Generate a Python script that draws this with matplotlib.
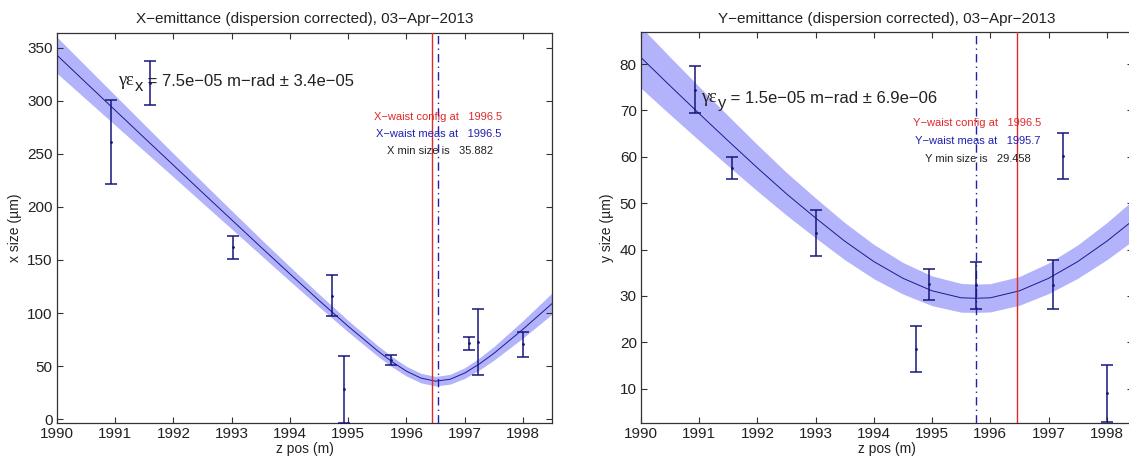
import matplotlib
matplotlib.use("Agg")
import matplotlib.pyplot as plt

plt.rcParams['font.family'] = ['Liberation Sans', 'DejaVu Sans']

# ---------------- data ----------------
years_ticks = [1990, 1991, 1992, 1993, 1994, 1995, 1996, 1997, 1998]

# X plane measurements
x_z = [1990.93, 1991.60, 1993.02, 1994.72, 1994.93, 1995.74, 1997.07, 1997.23, 1998.01]
x_size = [261.0, 316.7, 161.8, 116.5, 28.2, 55.7, 71.5, 72.6, 70.6]
x_err = [39.7, 21.0, 11.2, 19.2, 31.4, 4.9, 6.2, 31.0, 11.6]

# X fitted envelope
x_fit_z = [1990, 1990.5, 1991, 1991.5, 1992, 1992.5, 1993, 1993.5, 1994, 1994.5,
           1995, 1995.5, 1995.75, 1996, 1996.25, 1996.5, 1996.75, 1997, 1997.25,
           1997.5, 1998, 1998.5]
x_fit = [342.8, 316.8, 290.9, 265.0, 239.2, 213.4, 187.8, 162.2, 136.9, 111.9,
         87.6, 64.7, 54.3, 45.3, 38.8, 35.9, 37.7, 43.5, 52.0, 62.0, 84.7, 108.9]
x_band = [17.0, 15.5, 14.0, 12.5, 11.0, 9.8, 8.6, 7.6, 6.8, 6.0,
          5.4, 5.0, 4.8, 4.6, 4.5, 4.5, 4.6, 5.0, 5.6, 6.4, 8.2, 10.0]

# Y plane measurements
y_z = [1990.92, 1991.57, 1993.01, 1994.73, 1994.94, 1995.76, 1997.07, 1997.24, 1998.01]
y_size = [74.5, 57.6, 43.6, 18.65, 32.5, 32.3, 32.4, 60.2, 9.0]
y_err = [5.05, 2.4, 5.0, 4.95, 3.35, 5.1, 5.25, 5.0, 6.2]

# Y fitted envelope
y_fit_z = [1990, 1990.5, 1991, 1991.5, 1992, 1992.5, 1993, 1993.5, 1994, 1994.5,
           1995, 1995.5, 1995.75, 1996, 1996.5, 1997, 1997.5, 1998, 1998.5]
y_fit = [81.4, 75.3, 69.3, 63.4, 57.6, 52.0, 46.8, 41.8, 37.4, 33.8,
         31.1, 29.6, 29.5, 29.6, 31.1, 33.8, 37.4, 41.8, 46.8]
y_band = [6.6, 6.2, 5.8, 5.4, 5.0, 4.6, 4.3, 4.0, 3.7, 3.4,
          3.2, 3.1, 3.05, 3.05, 3.1, 3.3, 3.6, 4.0, 4.4]

x_waist_config = 1996.44
x_waist_meas = 1996.55
y_waist_config = 1996.45
y_waist_meas = 1995.76

# ---------------- style ----------------
band_col = '#b3b3fb'
line_col = '#1a1a8c'
err_col = '#16167a'
red_col = '#e02a2a'
blue_col = '#2020b0'
txt_col = '#222222'

W, H = 1129, 461
fig = plt.figure(figsize=(W / 100, H / 100), dpi=100)

def px_axes(x0, y_top, x1, y_bot):
    return fig.add_axes([x0 / W, 1 - y_bot / H, (x1 - x0) / W, (y_bot - y_top) / H])

ax1 = px_axes(57, 32.7, 552, 422.7)
ax2 = px_axes(641, 32.5, 1133, 422.7)


def style(ax, xlim, ylim, yticks):
    ax.set_xlim(*xlim)
    ax.set_ylim(*ylim)
    ax.set_xticks(years_ticks)
    ax.set_xticklabels([str(t) for t in years_ticks])
    ax.set_yticks(yticks)
    ax.set_yticklabels([str(t) for t in yticks])
    ax.tick_params(direction='in', length=4, width=0.8, top=True, right=True,
                   labelsize=11, colors='#333333', labelcolor=txt_col, pad=3)
    for s in ax.spines.values():
        s.set_color('#333333')
        s.set_linewidth(0.9)
    ax.set_xlabel('z pos (m)', fontsize=10, labelpad=1, color=txt_col)


def draw(ax, fz, fv, fb, mz, mv, me, cfg, meas):
    lo = [v - b for v, b in zip(fv, fb)]
    hi = [v + b for v, b in zip(fv, fb)]
    ax.fill_between(fz, lo, hi, color=band_col, lw=0, zorder=1)
    ax.plot(fz, fv, color=line_col, lw=0.7, zorder=2)
    ax.errorbar(mz, mv, yerr=me, fmt='.', ms=2, color=err_col, ecolor=err_col,
                elinewidth=1.1, capsize=4.5, capthick=1.1, zorder=4)
    ax.axvline(cfg, color=red_col, lw=1.0, zorder=3)
    ax.axvline(meas, color=blue_col, lw=1.0, ls=(0, (6, 3, 1, 3)), zorder=3)


def emit_label(ax, x, y, sub, rest):
    fs = 12
    t1 = ax.text(x, y, '\u03b3\u03b5', fontsize=13.5, va='bottom', ha='left',
                 color=txt_col, zorder=5, family=['Liberation Serif', 'DejaVu Serif'])
    t2 = ax.annotate(sub, xy=(1, 0), xycoords=t1, xytext=(0.3, -3.5),
                     textcoords='offset points', fontsize=fs, va='bottom', ha='left',
                     color=txt_col, zorder=5)
    ax.annotate(rest, xy=(1, 0), xycoords=t2, xytext=(0, 3.5),
                textcoords='offset points', fontsize=fs, va='bottom', ha='left',
                color=txt_col, zorder=5)


draw(ax1, x_fit_z, x_fit, x_band, x_z, x_size, x_err, x_waist_config, x_waist_meas)
style(ax1, (1990, 1998.5), (-3.2, 364), [0, 50, 100, 150, 200, 250, 300, 350])
ax1.set_ylabel('x size (\u00b5m)', fontsize=10, labelpad=4, color=txt_col)
ax1.set_title('X\u2212emittance (dispersion corrected), 03\u2212Apr\u22122013',
              fontsize=11, pad=7, color=txt_col)
emit_label(ax1, 1991.05, 311, 'x', ' = 7.5e\u221205 m\u2212rad \u00b1 3.4e\u221205')
ax1.text(1995.45, 285, 'X\u2212waist config at   1996.5', fontsize=8, color=red_col,
         va='center', ha='left', zorder=5)
ax1.text(1995.48, 268.4, 'X\u2212waist meas at   1996.5', fontsize=8, color=blue_col,
         va='center', ha='left', zorder=5)
ax1.text(1995.66, 253, 'X min size is   35.882', fontsize=8, color=txt_col,
         va='center', ha='left', zorder=5)

draw(ax2, y_fit_z, y_fit, y_band, y_z, y_size, y_err, y_waist_config, y_waist_meas)
style(ax2, (1990, 1998.45), (2.67, 86.8), [10, 20, 30, 40, 50, 60, 70, 80])
ax2.set_ylabel('y size (\u00b5m)', fontsize=10, labelpad=4, color=txt_col)
ax2.set_title('Y\u2212emittance (dispersion corrected), 03\u2212Apr\u22122013',
              fontsize=11, pad=7, color=txt_col)
emit_label(ax2, 1991.04, 70.9, 'y', ' = 1.5e\u221205 m\u2212rad \u00b1 6.9e\u221206')
ax2.text(1994.67, 67.2, 'Y\u2212waist config at   1996.5', fontsize=8, color=red_col,
         va='center', ha='left', zorder=5)
ax2.text(1994.71, 63.4, 'Y\u2212waist meas at   1995.7', fontsize=8, color=blue_col,
         va='center', ha='left', zorder=5)
ax2.text(1994.87, 59.6, 'Y min size is   29.458', fontsize=8, color=txt_col,
         va='center', ha='left', zorder=5)

fig.savefig('out.png', dpi=100, facecolor='white')
